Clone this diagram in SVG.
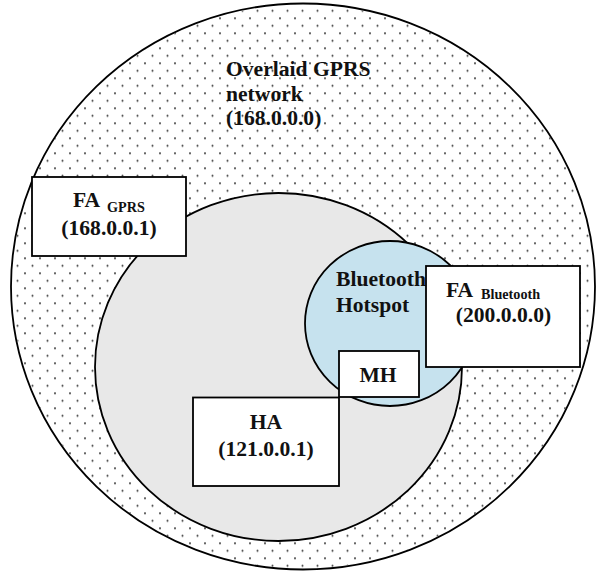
<svg xmlns="http://www.w3.org/2000/svg" width="597" height="572" viewBox="0 0 597 572">
<defs>
<pattern id="dots" patternUnits="userSpaceOnUse" x="10" y="3.3" width="15" height="15">
<circle cx="0" cy="0" r="1" fill="#333"/>
<circle cx="15" cy="0" r="1" fill="#333"/>
<circle cx="0" cy="15" r="1" fill="#333"/>
<circle cx="15" cy="15" r="1" fill="#333"/>
<circle cx="7.5" cy="7.5" r="1" fill="#333"/>
</pattern>
</defs>
<style>
.ln{stroke:#000;stroke-width:1.8}
.box{fill:#fff;stroke:#000;stroke-width:1.8}
.t{font-family:"Liberation Serif","Times New Roman",serif;font-weight:bold;fill:#111}
.big{font-size:21.6px}
.sub{font-size:14.2px}
</style>
<rect width="597" height="572" fill="#fff"/>
<g id="gprs-network">
<ellipse class="ln" cx="303" cy="286.5" rx="292" ry="283" fill="#fff"/>
<ellipse cx="303" cy="286.5" rx="291" ry="282" fill="url(#dots)"/>
<text class="t big" x="226" y="76">Overlaid GPRS</text>
<text class="t big" x="226" y="101">network</text>
<text class="t big" x="226" y="125">(168.0.0.0)</text>
</g>
<g id="home-network">
<ellipse class="ln" cx="278.5" cy="367" rx="183.5" ry="174" fill="#e8e8e8"/>
</g>
<g id="bluetooth-hotspot">
<ellipse class="ln" cx="390" cy="323.5" rx="85" ry="82.5" fill="#c6e2ee"/>
<text class="t big" x="336" y="286">Bluetooth</text>
<text class="t big" x="336" y="312">Hotspot</text>
</g>
<g id="connectors"></g>
<g id="fa-gprs">
<rect class="box" x="32" y="177" width="154" height="79"/>
<text class="t big" x="73" y="207">FA</text>
<text class="t sub" x="107" y="212">GPRS</text>
<text class="t big" x="109" y="235" text-anchor="middle">(168.0.0.1)</text>
</g>
<g id="fa-bluetooth">
<rect class="box" x="426" y="266" width="154" height="101"/>
<text class="t big" x="446" y="297">FA</text>
<text class="t sub" x="481" y="299">Bluetooth</text>
<text class="t big" x="503.5" y="322" text-anchor="middle">(200.0.0.0)</text>
</g>
<g id="mh">
<rect class="box" x="339" y="351" width="80" height="46"/>
<text class="t big" x="378" y="382" text-anchor="middle">MH</text>
</g>
<g id="ha">
<rect class="box" x="193" y="397.5" width="146" height="88.5"/>
<text class="t big" x="266" y="429" text-anchor="middle">HA</text>
<text class="t big" x="266" y="456" text-anchor="middle">(121.0.0.1)</text>
</g>
</svg>
